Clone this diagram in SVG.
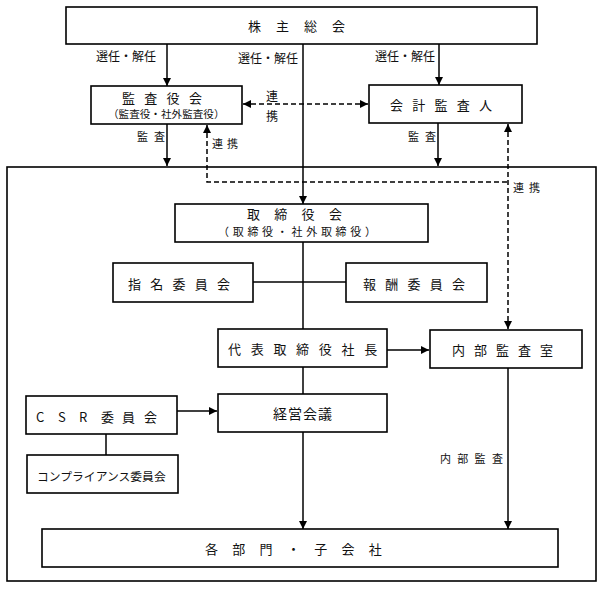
<svg xmlns="http://www.w3.org/2000/svg" width="604" height="589" viewBox="0 0 604 589">
<style>
  .box { fill: #fff; stroke: #000; stroke-width: 1.6; }
  .frame { fill: none; stroke: #000; stroke-width: 1.6; }
  .t { font-family: "Noto Sans CJK JP", "Noto Sans", sans-serif; fill: #111; dominant-baseline: central; }
  .ln { fill: none; stroke: #000; stroke-width: 1.5; }
  .dash { fill: none; stroke: #000; stroke-width: 1.5; stroke-dasharray: 5 3; }
</style>
<defs>
  <marker id="ah" viewBox="0 0 8 8" markerWidth="8" markerHeight="8" refX="8" refY="4" orient="auto-start-reverse" markerUnits="userSpaceOnUse">
    <path d="M0,0 L8,4 L0,8 z" fill="#000"/>
  </marker>
</defs>

<g id="company"><rect class="frame" x="7" y="167" width="589" height="414"/></g>

<g id="connectors">
  <line class="ln" x1="167" y1="44" x2="167" y2="86" marker-end="url(#ah)"/>
  <line class="ln" x1="303" y1="44" x2="303" y2="204" marker-end="url(#ah)"/>
  <line class="ln" x1="439" y1="44" x2="439" y2="85" marker-end="url(#ah)"/>
  <line class="dash" x1="243" y1="104" x2="368" y2="104" marker-start="url(#ah)" marker-end="url(#ah)"/>
  <line class="ln" x1="167" y1="124" x2="167" y2="166" marker-end="url(#ah)"/>
  <line class="ln" x1="438" y1="123" x2="438" y2="166" marker-end="url(#ah)"/>
  <path class="dash" d="M207,125 V182 H508" marker-start="url(#ah)"/>
  <path class="dash" d="M508,124 V329" marker-start="url(#ah)" marker-end="url(#ah)"/>
  <line class="ln" x1="303" y1="242" x2="303" y2="329"/>
  <line class="ln" x1="253" y1="282" x2="346" y2="282"/>
  <line class="ln" x1="387" y1="350" x2="429" y2="350" marker-end="url(#ah)"/>
  <line class="ln" x1="303" y1="367" x2="303" y2="394"/>
  <line class="ln" x1="177" y1="411" x2="217" y2="411" marker-end="url(#ah)"/>
  <line class="ln" x1="106" y1="434" x2="106" y2="455"/>
  <line class="ln" x1="303" y1="432" x2="303" y2="529" marker-end="url(#ah)"/>
  <line class="ln" x1="508" y1="368" x2="508" y2="529" marker-end="url(#ah)"/>
  <text class="t" x="96" y="55" font-size="12">選任・解任</text>
  <text class="t" x="238" y="57" font-size="12">選任・解任</text>
  <text class="t" x="375" y="55" font-size="12">選任・解任</text>
  <text class="t" x="266" y="95" font-size="12">連</text>
  <text class="t" x="266" y="115" font-size="12">携</text>
  <text class="t" x="137" y="136" font-size="11" letter-spacing="6">監査</text>
  <text class="t" x="408" y="136" font-size="11" letter-spacing="6">監査</text>
  <text class="t" x="212" y="143" font-size="11" letter-spacing="4">連携</text>
  <text class="t" x="513" y="187" font-size="11" letter-spacing="5">連携</text>
  <text class="t" x="440" y="458" font-size="11" letter-spacing="6.3">内部監査</text>
</g>

<g id="shareholders">
  <rect class="box" x="66" y="7" width="471" height="37"/>
  <text class="t" x="248" y="25" font-size="13" letter-spacing="15">株主総会</text>
</g>
<g id="auditors-board">
  <rect class="box" x="91" y="86" width="151" height="38"/>
  <text class="t" x="122" y="97" font-size="13" letter-spacing="9.3">監査役会</text>
  <text class="t" x="108" y="113" font-size="10.6">（監査役・社外監査役）</text>
</g>
<g id="accounting-auditor">
  <rect class="box" x="369" y="85" width="153" height="38"/>
  <text class="t" x="390" y="104" font-size="13" letter-spacing="9.25">会計監査人</text>
</g>
<g id="board">
  <rect class="box" x="175" y="204" width="253" height="38"/>
  <text class="t" x="247" y="213" font-size="13" letter-spacing="14.3">取締役会</text>
  <text class="t" x="218" y="231" font-size="11" letter-spacing="3.7">（取締役・社外取締役）</text>
</g>
<g id="nomination">
  <rect class="box" x="113" y="263" width="140" height="39"/>
  <text class="t" x="128" y="283" font-size="13" letter-spacing="9.25">指名委員会</text>
</g>
<g id="remuneration">
  <rect class="box" x="346" y="263" width="141" height="39"/>
  <text class="t" x="363" y="283" font-size="13" letter-spacing="9.25">報酬委員会</text>
</g>
<g id="president">
  <rect class="box" x="218" y="329" width="169" height="38"/>
  <text class="t" x="228" y="348" font-size="13" letter-spacing="9.7">代表取締役社長</text>
</g>
<g id="internal-audit">
  <rect class="box" x="430" y="330" width="152" height="38"/>
  <text class="t" x="452" y="349" font-size="13" letter-spacing="9">内部監査室</text>
</g>
<g id="management">
  <rect class="box" x="218" y="394" width="169" height="38"/>
  <text class="t" x="273" y="413" font-size="14" letter-spacing="1">経営会議</text>
</g>
<g id="csr">
  <rect class="box" x="26" y="396" width="151" height="38"/>
  <text class="t" x="36 58 79 101 122 144" y="416" font-size="13" font-family="Liberation Serif, Noto Sans CJK JP, serif">CSR委員会</text>
</g>
<g id="compliance">
  <rect class="box" x="27" y="455" width="151" height="38"/>
  <text class="t" x="37" y="475" font-size="11.8">コンプライアンス委員会</text>
</g>
<g id="divisions">
  <rect class="box" x="42" y="529" width="516" height="38"/>
  <text class="t" x="205" y="548" font-size="13" letter-spacing="14.3">各部門・子会社</text>
</g>
</svg>
